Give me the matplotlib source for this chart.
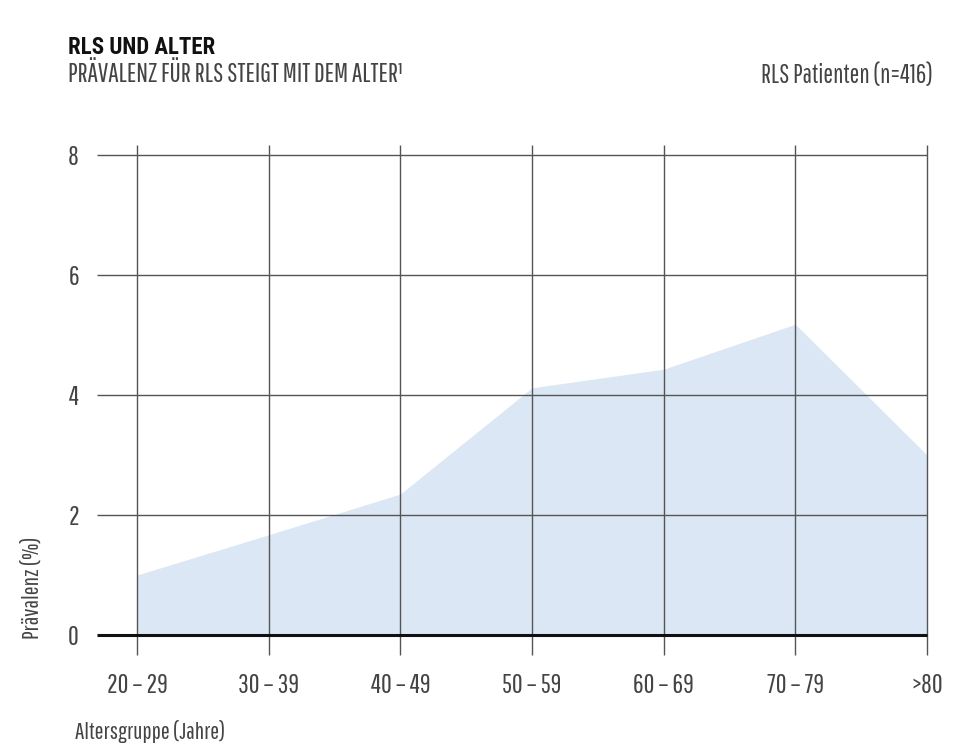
import matplotlib
matplotlib.use("Agg")
import matplotlib.pyplot as plt

LIGHT = ['Pathway Gothic One', 'Roboto Condensed', 'DejaVu Sans']
BOLD = ['Roboto Condensed', 'DejaVu Sans']
plt.rcParams['font.family'] = LIGHT

categories = ["20 – 29", "30 – 39", "40 – 49", "50 – 59", "60 – 69", "70 – 79", ">80"]
prevalence = [1.0, 1.67, 2.35, 4.12, 4.43, 5.18, 3.0]
yticks = [0, 2, 4, 6, 8]

fig = plt.figure(figsize=(9.59, 7.44), dpi=100)
W, H = 959, 744
x0, x1 = 97, 927
y0, y1 = 655, 145
ax = fig.add_axes([x0 / W, 1 - y0 / H, (x1 - x0) / W, (y0 - y1) / H])

xs = list(range(len(categories)))
xmin = -(137 - 97) / ((927 - 137) / 6)
ymin = -(655 - 635) / 60
ymax = 8 + (155 - 145) / 60
ax.set_xlim(xmin, len(categories) - 1)
ax.set_ylim(ymin, ymax)

ax.fill_between(xs, prevalence, 0, color="#dbe7f4", linewidth=0, zorder=1)

grid_col = "#555555"
for y in yticks:
    if y == 0:
        ax.hlines(y, xmin, len(categories) - 1, color="#111111", linewidth=2.2, zorder=3, clip_on=False)
    else:
        ax.hlines(y, xmin, len(categories) - 1, color=grid_col, linewidth=1.0, zorder=2, clip_on=False)
ax.vlines(xs, ymin, ymax, color=grid_col, linewidth=1.0, zorder=2, clip_on=False)

for s in ax.spines.values():
    s.set_visible(False)
ax.set_xticks(xs)
ax.set_xticklabels(categories)
ax.set_yticks(yticks)
ax.set_yticklabels([str(v) for v in yticks])
ax.tick_params(axis='both', length=0, labelsize=19, colors="#444444")
ax.tick_params(axis='x', pad=13)
ax.tick_params(axis='y', pad=13)

fig.text(68 / W, 1 - 48 / H, "RLS UND ALTER", fontsize=16.5, fontweight='bold',
         family=BOLD, color="#111111", va='center', ha='left')
fig.text(68 / W, 1 - 74 / H, "PRÄVALENZ FÜR RLS STEIGT MIT DEM ALTER¹", fontsize=19,
         color="#444444", va='center', ha='left')
fig.text(933 / W, 1 - 76 / H, "RLS Patienten (n=416)", fontsize=18.5,
         color="#444444", va='center', ha='right')
fig.text(32 / W, 1 - 588 / H, "Prävalenz (%)", fontsize=17, rotation=90,
         color="#444444", va='center', ha='center')
fig.text(75 / W, 1 - 731 / H, "Altersgruppe (Jahre)", fontsize=17,
         color="#444444", va='center', ha='left')

fig.savefig("out.png", dpi=100, facecolor="white")
